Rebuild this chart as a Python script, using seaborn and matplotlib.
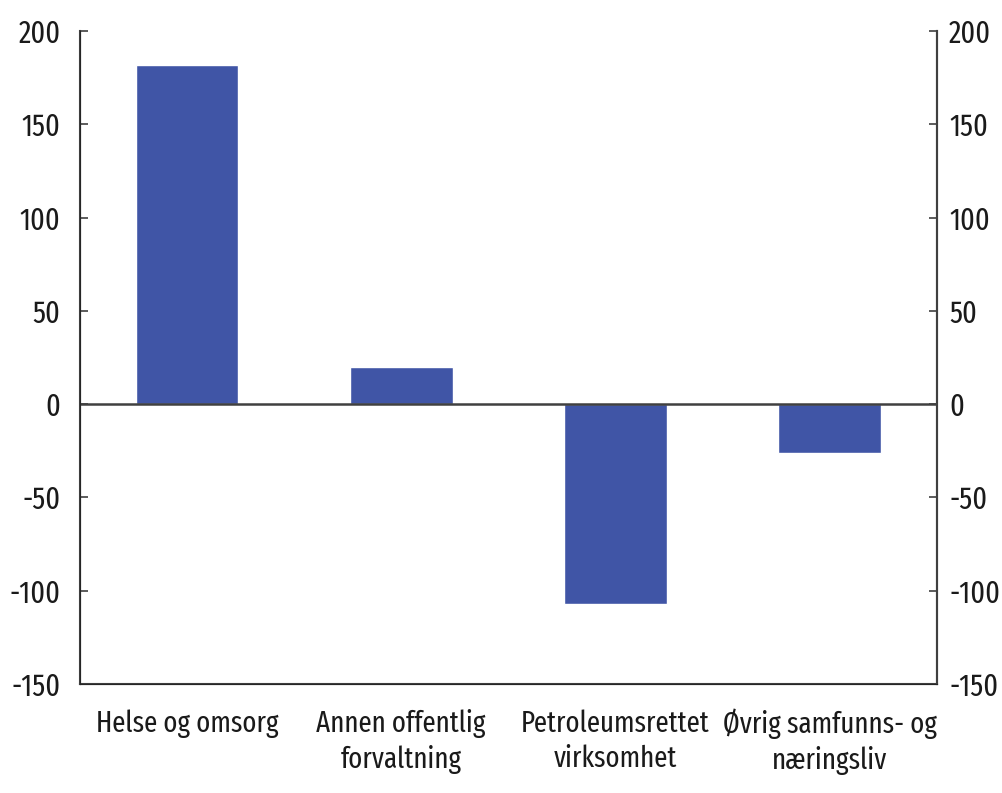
import pandas as pd
import seaborn as sns
import matplotlib
matplotlib.use("Agg")
import matplotlib.pyplot as plt

# Sysselsettingsendring etter næring
categories = ["Helse og omsorg", "Annen offentlig\nforvaltning",
              "Petroleumsrettet\nvirksomhet", "Øvrig samfunns- og\nnæringsliv"]
values = [182, 20, -107, -26]
yticks = [-150, -100, -50, 0, 50, 100, 150, 200]

data = pd.DataFrame({"Kategori": categories, "Endring": values})

sns.set_style("white")
plt.rcParams["font.family"] = ["Fira Sans Extra Condensed", "DejaVu Sans"]

fig = plt.figure(figsize=(10.02, 7.93), dpi=100)
ax = fig.add_axes([0.0798, 0.1375, 0.855, 0.8235])

sns.barplot(data=data, x="Kategori", y="Endring", color="#4055A6",
            width=0.48, saturation=1, ax=ax)

ax.set_xlim(-0.5, 3.5)
ax.set_ylim(-150, 200)
ax.set_yticks(yticks)
ax.set_yticklabels([str(t) for t in yticks])
ax.axhline(0, color="#404040", lw=1.8, zorder=3)

ax.set_xlabel("")
ax.set_ylabel("")
for side in ["left", "bottom", "right"]:
    ax.spines[side].set_color("#404040")
    ax.spines[side].set_linewidth(1.5)
ax.spines["top"].set_visible(False)

ax.tick_params(axis="y", direction="in", length=6, width=1.2, color="#404040",
               labelsize=22, pad=14, labelcolor="#1a1a1a")
ax.tick_params(axis="x", length=0, labelsize=21, pad=18, labelcolor="#1a1a1a")
for lbl in ax.get_xticklabels():
    lbl.set_linespacing(1.3)

ax2 = ax.twinx()
ax2.set_ylim(ax.get_ylim())
ax2.set_yticks(yticks)
ax2.set_yticklabels([str(t) for t in yticks])
ax2.tick_params(axis="y", direction="in", length=6, width=1.2, color="#404040",
                labelsize=22, pad=9, labelcolor="#1a1a1a")
ax2.spines["top"].set_visible(False)
ax2.spines["right"].set_color("#404040")
ax2.spines["right"].set_linewidth(1.5)
ax2.grid(False)

fig.savefig("out.png", dpi=100)
